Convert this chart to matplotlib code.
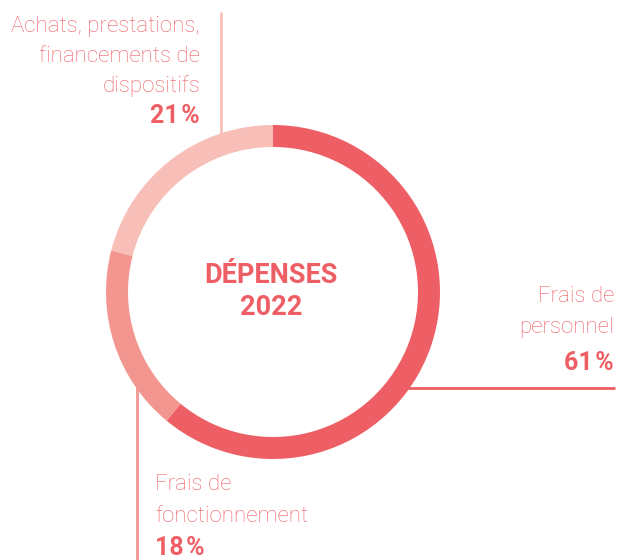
import matplotlib.pyplot as plt

labels = ["Frais de\npersonnel", "Frais de\nfonctionnement", "Achats, prestations,\nfinancements de\ndispositifs"]
shares = [61, 18, 21]
pct_labels = ["61\u200a%", "18\u200a%", "21\u200a%"]
colors = ["#EE5F65", "#F2968F", "#F8BFB8"]
title = "DÉPENSES\n2022"

W, H = 618, 560
red = "#EE5F65"
plt.rcParams['font.family'] = ['Roboto', 'DejaVu Sans']

fig = plt.figure(figsize=(W / 100, H / 100), dpi=100)
ax = fig.add_axes([0, 0, 1, 1])

def Y(y):
    # image pixel row -> data y
    return H - y

# leader lines
ax.plot([221, 221], [Y(12), Y(150)], color=colors[2], lw=2, zorder=1, solid_capstyle='butt')
ax.plot([400, 615], [Y(388), Y(388)], color=colors[0], lw=2, zorder=1, solid_capstyle='butt')
ax.plot([137, 137], [Y(380), Y(560)], color=colors[1], lw=2, zorder=1, solid_capstyle='butt')

ax.pie(shares, colors=colors, startangle=90, counterclock=False,
       center=(273, Y(292)), radius=167, frame=True,
       wedgeprops=dict(width=22, linewidth=0, zorder=2))
ax.set_xlim(0, W)
ax.set_ylim(0, H)
ax.axis('off')

def lines(x, y0, text, step, ha, **kw):
    for i, s in enumerate(text.split('\n')):
        ax.text(x, Y(y0 + i * step), s, ha=ha, va='baseline', **kw)

lines(271, 283, title, 32, 'center', fontsize=19.5, fontweight='bold', color=red)

txt = dict(color=red, fontsize=16, fontweight='light')
pct = dict(color=red, fontsize=18, fontweight='bold')

lines(200, 32, labels[2], 30, 'right', **txt)
ax.text(200, Y(123), pct_labels[2], ha='right', va='baseline', **pct)

lines(614, 302, labels[0], 31, 'right', **txt)
ax.text(614, Y(370), pct_labels[0], ha='right', va='baseline', **pct)

lines(155, 490, labels[1], 32, 'left', **txt)
ax.text(155, Y(555), pct_labels[1], ha='left', va='baseline', **pct)

fig.savefig("out.png", dpi=100)
